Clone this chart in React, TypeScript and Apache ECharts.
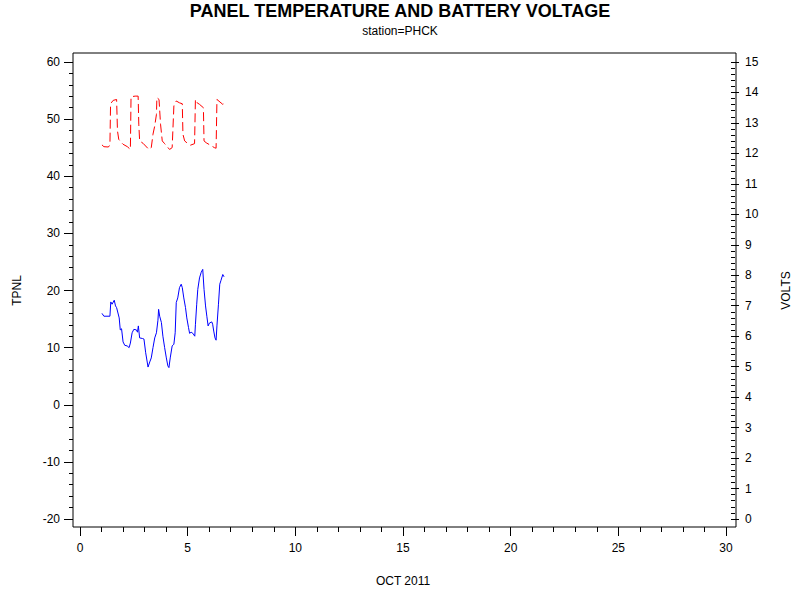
import { useEffect, useRef } from 'react';
import * as echarts from 'echarts';

// day of month (OCT 2011) and panel temperature
const tempDays = [
  1.02, 1.11, 1.39, 1.43, 1.49, 1.59, 1.65, 1.7, 1.82, 1.87, 1.93, 2.0, 2.08, 2.19, 2.28, 2.34,
  2.42, 2.5, 2.62, 2.67, 2.71, 2.77, 2.9, 2.97, 3.05, 3.16, 3.24, 3.31, 3.39, 3.47, 3.55, 3.62,
  3.65, 3.7, 3.78, 3.85, 3.93, 4.01, 4.08, 4.13, 4.19, 4.28, 4.36, 4.42, 4.47, 4.54, 4.62, 4.7,
  4.75, 4.82, 4.9, 4.96, 5.04, 5.09, 5.16, 5.24, 5.33, 5.36, 5.42, 5.47, 5.55, 5.63, 5.7, 5.76,
  5.83, 5.89, 5.95, 6.01, 6.12, 6.16, 6.21, 6.27, 6.32, 6.36, 6.43, 6.49, 6.55, 6.63, 6.69,
];
const tempValues = [
  16.0, 15.5, 15.5, 18.0, 17.6, 18.3, 17.3, 17.0, 15.2, 13.1, 13.3, 11.0, 10.4, 10.3, 10.0, 10.8,
  12.6, 13.2, 13.1, 12.7, 13.8, 11.7, 11.6, 11.5, 9.1, 6.6, 7.5, 8.2, 10.0, 11.7, 12.6, 14.8,
  16.7, 15.5, 14.4, 12.0, 10.0, 8.2, 6.8, 6.5, 8.2, 10.3, 10.6, 12.6, 17.9, 18.7, 20.5, 21.1,
  20.5, 18.7, 17.0, 15.2, 13.5, 12.5, 12.7, 12.5, 12.0, 14.0, 17.6, 20.2, 22.2, 23.2, 23.7, 20.2,
  17.3, 15.5, 13.8, 14.3, 14.5, 14.1, 12.9, 11.7, 11.3, 13.8, 17.6, 21.1, 21.8, 22.8, 22.4,
];

// battery voltage
const voltDays = [
  1.02, 1.11, 1.32, 1.39, 1.42, 1.54, 1.7, 1.74, 1.8, 1.93, 2.0, 2.2, 2.34, 2.37, 2.56, 2.7,
  2.73, 2.77, 2.93, 3.2, 3.31, 3.39, 3.47, 3.55, 3.57, 3.67, 3.74, 3.82, 3.93, 4.16, 4.28, 4.36,
  4.47, 4.62, 4.75, 4.78, 4.86, 5.01, 5.13, 5.32, 5.36, 5.44, 5.55, 5.73, 5.76, 5.86, 6.05, 6.24,
  6.32, 6.36, 6.63, 6.7,
];
const voltValues = [
  12.28, 12.22, 12.21, 12.28, 13.63, 13.74, 13.77, 12.74, 12.46, 12.35, 12.3, 12.22, 12.13, 13.86,
  13.88, 13.88, 12.96, 12.41, 12.33, 12.13, 12.19, 12.63, 12.9, 13.28, 13.83, 13.77, 12.96, 12.41,
  12.32, 12.13, 12.19, 13.56, 13.72, 13.66, 13.63, 12.63, 12.41, 12.32, 12.27, 12.32, 13.77, 13.66,
  13.61, 13.5, 12.41, 12.35, 12.27, 12.19, 12.17, 13.77, 13.61, 13.64,
];

const FONT = 'Liberation Sans, Arial, sans-serif';

export default function App() {
  const chartRef = useRef<HTMLDivElement>(null);

  useEffect(() => {
    if (!chartRef.current) return;
    const chart = echarts.init(chartRef.current, null, { renderer: 'svg' });

    const tickStyle = { color: '#000', width: 1 };
    const labelStyle = { color: '#000', fontSize: 12, fontFamily: FONT };

    chart.setOption({
      animation: false,
      backgroundColor: '#fff',
      title: {
        text: 'PANEL TEMPERATURE AND BATTERY VOLTAGE',
        subtext: 'station=PHCK',
        left: 'center',
        top: -3,
        itemGap: 5,
        textStyle: { color: '#000', fontSize: 18, fontWeight: 'bold', fontFamily: FONT },
        subtextStyle: { color: '#000', fontSize: 12, fontFamily: FONT },
      },
      graphic: [
        {
          type: 'rect',
          shape: { x: 73, y: 53, width: 663, height: 474 },
          style: { fill: 'none', stroke: '#000', lineWidth: 1 },
          silent: true,
        },
      ],
      grid: { left: 80, right: 69, top: 62, bottom: 81 },
      xAxis: {
        type: 'value',
        min: 0,
        max: 30,
        interval: 5,
        offset: 8,
        name: 'OCT 2011',
        nameLocation: 'middle',
        nameGap: 48,
        nameTextStyle: { color: '#000', fontSize: 12, fontFamily: FONT },
        axisLine: { show: false, onZero: false },
        axisTick: { show: true, length: 9, lineStyle: tickStyle },
        minorTick: { show: true, splitNumber: 5, length: 5, lineStyle: tickStyle },
        axisLabel: { ...labelStyle, margin: 15 },
        splitLine: { show: false },
      },
      yAxis: [
        {
          type: 'value',
          position: 'left',
          min: -20,
          max: 60,
          interval: 10,
          offset: 7,
          name: 'TPNL',
          nameLocation: 'middle',
          nameGap: 50,
          nameTextStyle: { color: '#000', fontSize: 12, fontFamily: FONT },
          axisLine: { show: false, onZero: false },
          axisTick: { show: true, length: 9, lineStyle: tickStyle },
          minorTick: { show: true, splitNumber: 5, length: 4, lineStyle: tickStyle },
          axisLabel: { ...labelStyle, margin: 13 },
          splitLine: { show: false },
        },
        {
          type: 'value',
          position: 'right',
          min: 0,
          max: 15,
          interval: 1,
          offset: 5,
          name: 'VOLTS',
          nameLocation: 'middle',
          nameGap: 49,
          nameTextStyle: { color: '#000', fontSize: 12, fontFamily: FONT },
          axisLine: { show: false, onZero: false },
          axisTick: { show: true, length: 8, lineStyle: tickStyle },
          minorTick: { show: true, splitNumber: 5, length: 4, lineStyle: tickStyle },
          axisLabel: { ...labelStyle, margin: 14 },
          splitLine: { show: false },
        },
      ],
      series: [
        {
          name: 'TPNL',
          type: 'line',
          yAxisIndex: 0,
          data: tempDays.map((d, i) => [d, tempValues[i]]),
          showSymbol: false,
          lineStyle: { color: '#0000ff', width: 1 },
        },
        {
          name: 'VOLTS',
          type: 'line',
          yAxisIndex: 1,
          data: voltDays.map((d, i) => [d, voltValues[i]]),
          showSymbol: false,
          lineStyle: { color: '#ff0000', width: 1, type: [9, 4] },
        },
      ],
    });

    return () => {
      chart.dispose();
    };
  }, []);

  return (
    <div
      ref={chartRef}
      style={{ position: 'absolute', left: 0, top: 0, width: 800, height: 600 }}
    />
  );
}
